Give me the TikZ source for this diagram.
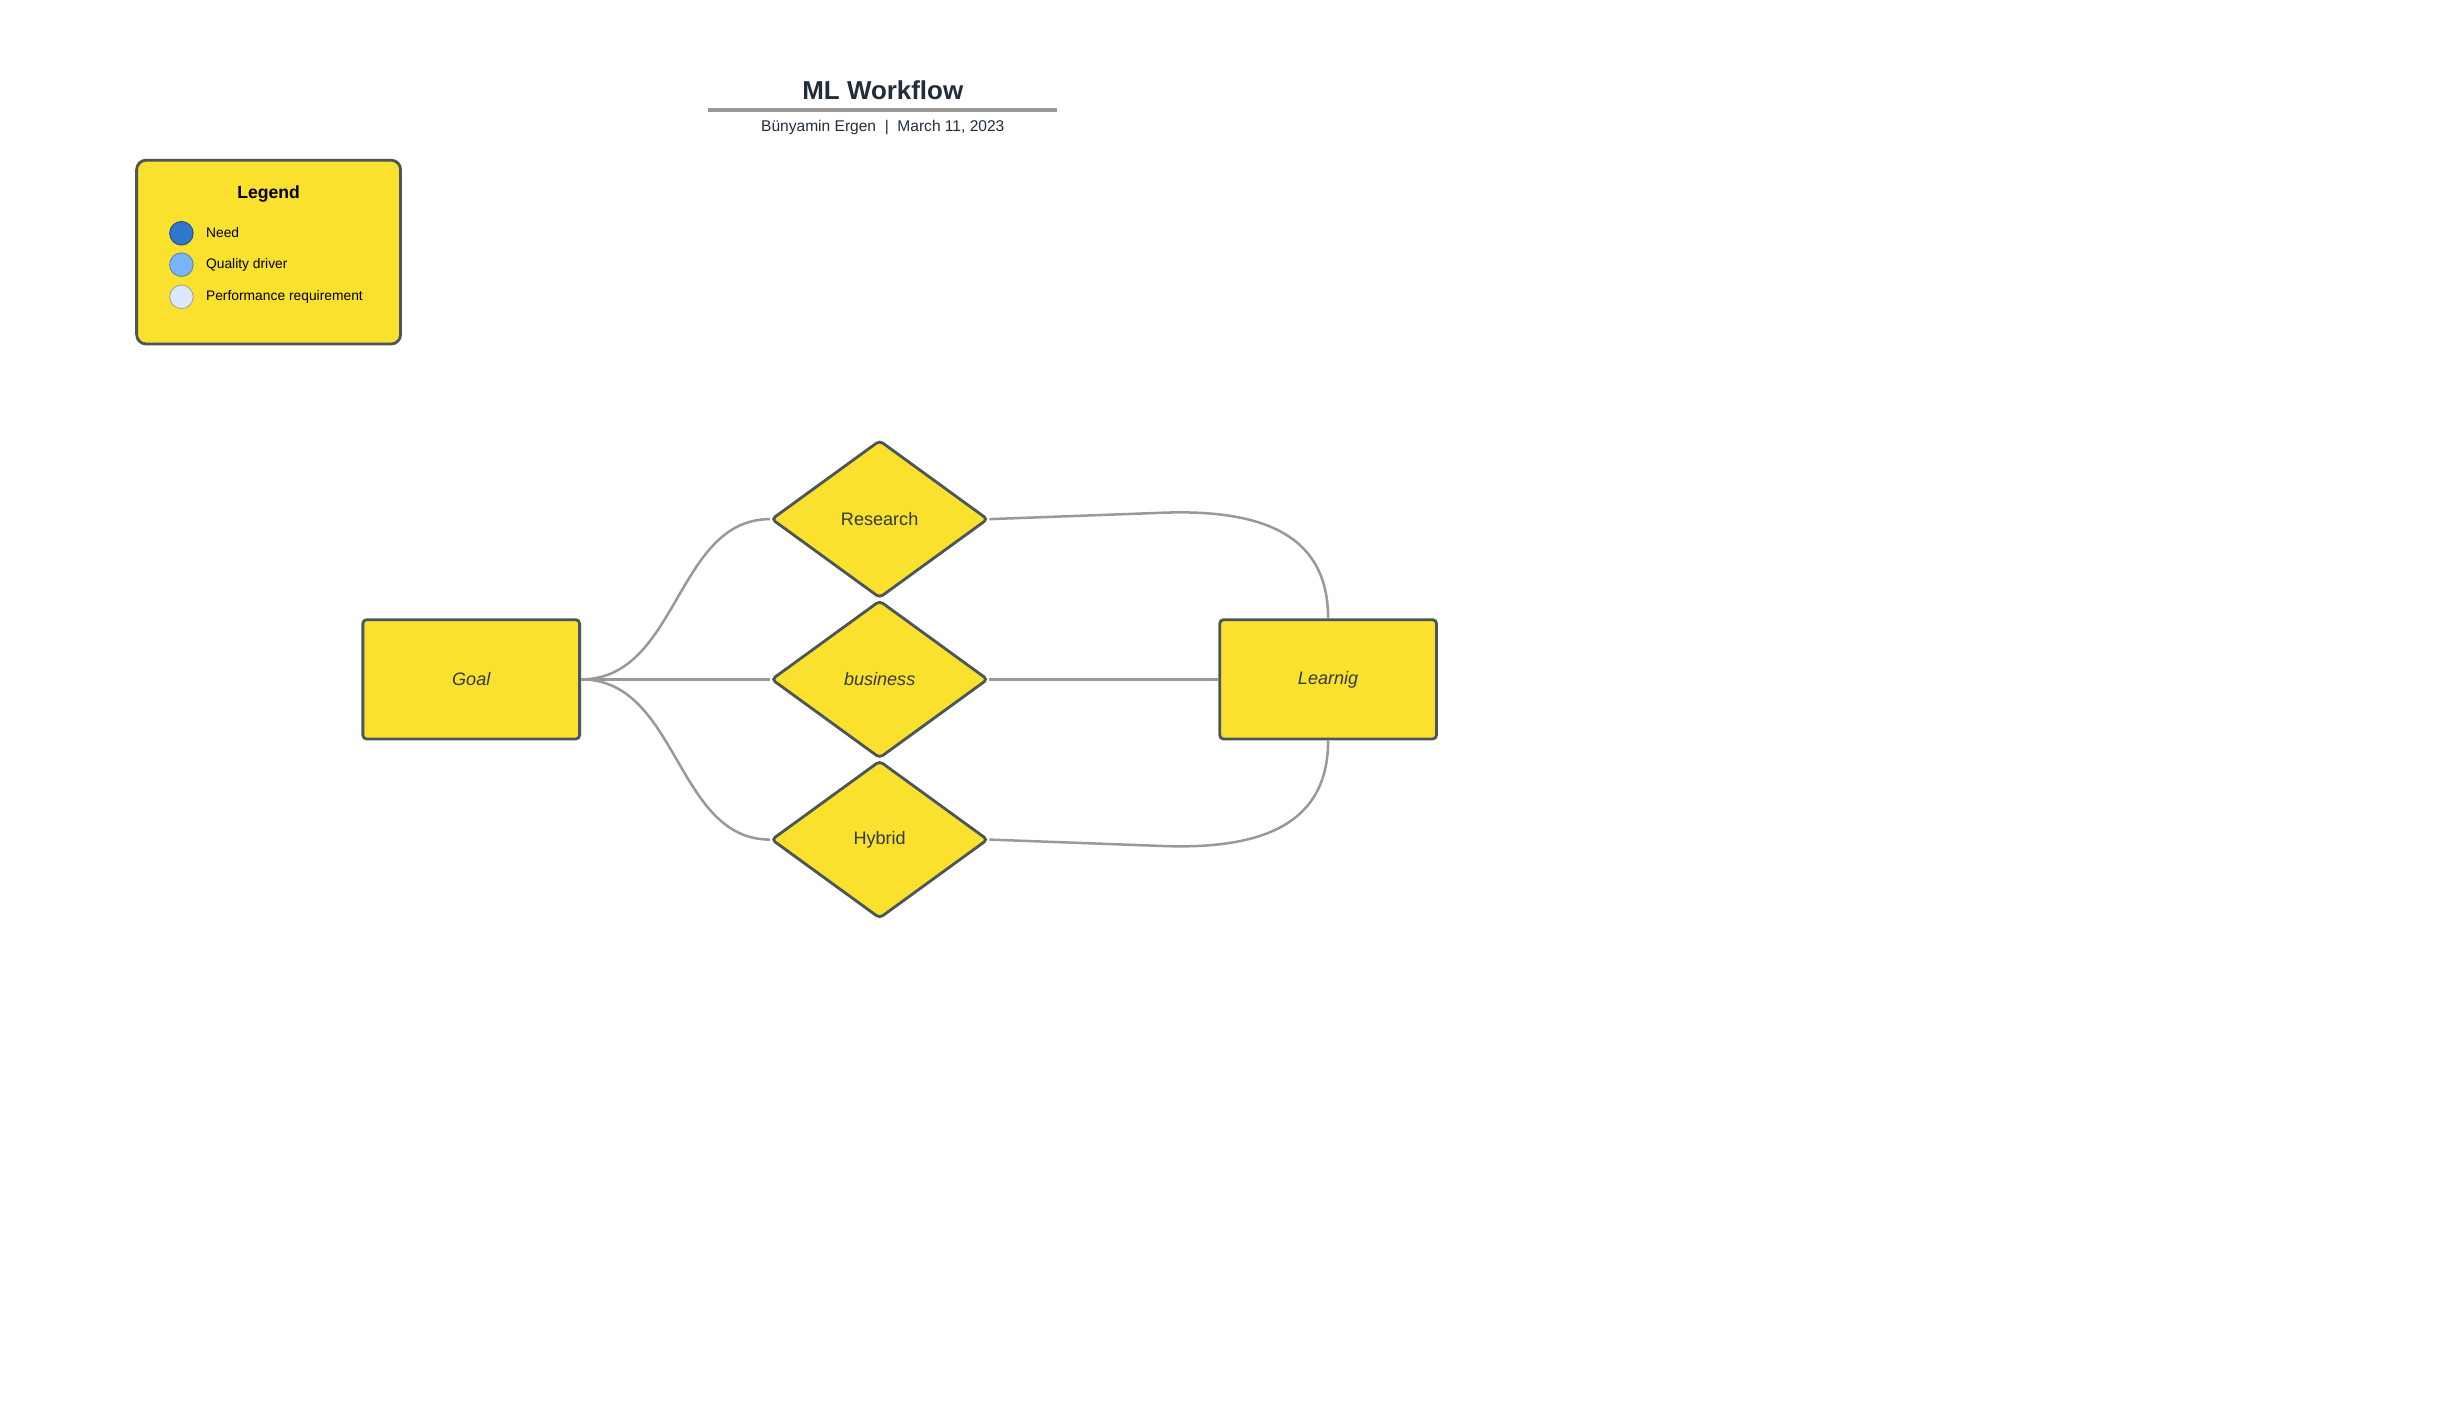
\documentclass[tikz,border=0pt]{standalone}
\usepackage{fontspec}
\setmainfont{Liberation Sans}
\usetikzlibrary{shapes.geometric}
\definecolor{yel}{HTML}{F9E12D}
\definecolor{bord}{HTML}{4B565B}
\definecolor{edge}{HTML}{999999}
\definecolor{navy}{HTML}{1F2D3D}
\definecolor{txt}{HTML}{333A40}
\definecolor{needc}{HTML}{2F76CC}
\definecolor{qualc}{HTML}{7AB4F8}
\definecolor{perfc}{HTML}{DCE9FA}
\tikzset{
  box/.style={draw=bord, fill=yel, line width=1.8pt, rounded corners=2.5pt, minimum width=138pt, minimum height=76pt, inner sep=0pt, font=\fontsize{11.5}{13}\selectfont\itshape, text=txt},
  dia/.style={draw=bord, fill=yel, line width=1.8pt, diamond, rounded corners=2.5pt, minimum width=138pt, minimum height=100.5pt, inner sep=0pt, font=\fontsize{11.5}{13}\selectfont, text=txt},
  conn/.style={draw=edge, line width=1.6pt},
  legbox/.style={draw=bord, fill=yel, line width=1.8pt, rounded corners=6pt, minimum width=168pt, minimum height=117pt, inner sep=0pt},
  legdot/.style={circle, minimum size=15pt, inner sep=0pt, line width=0.6pt},
  legtxt/.style={anchor=west, inner sep=0pt, font=\fontsize{8.8}{10}\selectfont, text=black},
}
\begin{document}
\begin{tikzpicture}[x=1pt, y=-1pt]
\useasboundingbox (0,0) rectangle (1568,903.4);
% title
\node[font=\fontsize{16.5}{19}\bfseries, text=navy] (title) at (562,57.5) {ML Workflow};
\draw[edge, line width=2pt] (451,70) -- (673,70);
\node[font=\fontsize{9.9}{12}\selectfont, text=navy] (sub) at (562,81.5) {Bünyamin Ergen \ |\ \ March 11, 2023};
% legend
\node[legbox] (legend) at (171,160.5) {};
\node[font=\fontsize{11.2}{13}\bfseries, text=black] (legtitle) at (171,123.5) {Legend};
\node[legdot, fill=needc, draw=needc!70!black] (d1) at (115.5,148.5) {};
\node[legdot, fill=qualc, draw=qualc!75!black] (d2) at (115.5,168.5) {};
\node[legdot, fill=perfc, draw=gray!70] (d3) at (115.5,189) {};
\node[legtxt] (t1) at (131,148) {Need};
\node[legtxt] (t2) at (131,168.5) {Quality driver};
\node[legtxt] (t3) at (131,189) {Performance requirement};
% main nodes
\node[box] (goal) at (300,432.5) {Goal};
\node[box] (learn) at (845.5,432.5) {Learnig};
\node[dia] (research) at (560,330.5) {Research};
\node[dia, font=\fontsize{11.5}{13}\selectfont\itshape] (business) at (560,432.5) {business};
\node[dia] (hybrid) at (560,534.5) {Hybrid};
% connectors
\path[conn] (goal.east) .. controls (432,432.5) and (430,330.5) .. (research.west);
\path[conn] (goal.east) -- (business.west);
\path[conn] (goal.east) .. controls (432,432.5) and (430,534.5) .. (hybrid.west);
\path[conn] (business.east) -- (learn.west);
\path[conn] (research.east) -- (738,326.5) .. controls (808,323.5) and (845.5,343) .. (learn.north);
\path[conn] (hybrid.east) -- (738,538.5) .. controls (808,541.5) and (845.5,522) .. (learn.south);
\end{tikzpicture}
\end{document}
